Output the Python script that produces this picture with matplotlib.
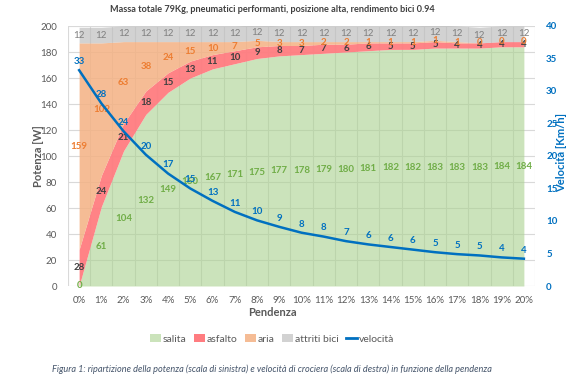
import numpy as np
import matplotlib
matplotlib.use("Agg")
import matplotlib.pyplot as plt
from matplotlib.patches import Patch
from matplotlib.lines import Line2D

plt.rcParams['font.family'] = ['Lato', 'DejaVu Sans']

pendenza = ["0%", "1%", "2%", "3%", "4%", "5%", "6%", "7%", "8%", "9%", "10%",
            "11%", "12%", "13%", "14%", "15%", "16%", "17%", "18%", "19%", "20%"]
salita = [0, 61, 104, 132, 149, 160, 167, 171, 175, 177, 178, 179, 180, 181, 182, 182, 183, 183, 183, 184, 184]
asfalto = [28, 24, 21, 18, 15, 13, 11, 10, 9, 8, 7, 7, 6, 6, 5, 5, 5, 4, 4, 4, 4]
aria = [159, 102, 63, 38, 24, 15, 10, 7, 5, 3, 3, 2, 2, 1, 1, 1, 1, 1, 0, 0, 0]
bici = [12] * 21
velocita = [33.2, 28.1, 23.8, 20.2, 17.3, 15.0, 13.1, 11.4, 10.1, 9.1, 8.2, 7.6, 6.9,
            6.4, 6.0, 5.6, 5.2, 4.9, 4.7, 4.4, 4.2]

c_sal, c_asf, c_aria, c_bici, c_vel = '#A9D18E', '#FF7C80', '#F4B183', '#BFBFBF', '#0070C0'

fig = plt.figure(figsize=(5.79, 3.83), dpi=100)
ax = fig.add_axes([68/579, 1-286/383, (535-68)/579, (286-26)/383])
x = np.arange(len(pendenza))

ax.grid(True, axis='y', color='#D9D9D9', lw=0.8)
ax.set_xticks(np.arange(-0.5, len(pendenza), 1), minor=True)
ax.grid(True, axis='x', which='minor', color='#D9D9D9', lw=0.8)
ax.set_axisbelow(True)

ax.fill_between(x, 0, salita, color=c_sal, alpha=0.6, lw=0)
s1 = np.array(salita)
s2 = s1 + np.array(asfalto)
s3 = s2 + np.array(aria)
s4 = s3 + np.array(bici)
ax.fill_between(x, s1, s2, color=c_asf, alpha=0.95, lw=0)
ax.fill_between(x, s2, s3, color=c_aria, alpha=0.85, lw=0)
ax.fill_between(x, s3, s4, color=c_bici, alpha=0.7, lw=0)

ax.set_xlim(-0.5, 20.5)
ax.set_ylim(0, 200)
ax.set_yticks(np.arange(0, 201, 20))
ax.set_xticks(x)
ax.set_xticklabels(pendenza)
ax.tick_params(axis='both', which='both', length=0, labelsize=7, colors='#595959')
ax.tick_params(axis='y', pad=8)
ax.tick_params(axis='x', pad=7)
for sp in ax.spines.values():
    sp.set_visible(False)

lab_kw = dict(ha='center', va='center', fontsize=7, fontweight='bold')
for i in x:
    ax.text(i, salita[i] / 2, str(salita[i]), color='#70AD47', **lab_kw)
    ax.text(i, s1[i] + asfalto[i] / 2, str(asfalto[i]), color='#404040', **lab_kw)
    ax.text(i, s2[i] + aria[i] / 2, str(aria[i]), color='#ED7D31', **lab_kw)
    ax.text(i, s3[i] + bici[i] / 2, str(bici[i]), color='#7F7F7F', ha='center', va='center', fontsize=7)

ax2 = ax.twinx()
ax2.plot(x, velocita, color=c_vel, lw=1.8)
ax2.set_ylim(0, 40)
ax2.set_yticks(np.arange(0, 41, 5))
ax2.tick_params(axis='y', length=0, labelsize=7, colors=c_vel, pad=8)
for t in ax2.get_yticklabels():
    t.set_fontweight('bold')
for sp in ax2.spines.values():
    sp.set_visible(False)
for i in x:
    ax2.annotate(str(int(round(velocita[i]))), (i, velocita[i]), xytext=(0, 3),
                 textcoords='offset points', ha='center', va='bottom',
                 fontsize=7, fontweight='bold', color=c_vel)

fig.text(38/579, 1-156/383, 'Potenza [W]', rotation=90, ha='center', va='center',
         fontsize=8, fontweight='bold', color='#595959')
fig.text(562/579, 1-152/383, 'Velocità [Km/h]', rotation=90, ha='center', va='center',
         fontsize=8, fontweight='bold', color=c_vel)
fig.text(272/579, 1-313/383, 'Pendenza', ha='center', va='center',
         fontsize=8, fontweight='bold', color='#595959')
fig.text(272/579, 1-9/383, 'Massa totale 79Kg, pneumatici performanti, posizione alta, rendimento bici 0.94',
         ha='center', va='center', fontsize=6.6, fontweight='bold', color='#404040')

handles = [Patch(facecolor=c_sal, alpha=0.6), Patch(facecolor=c_asf), Patch(facecolor=c_aria, alpha=0.85),
           Patch(facecolor=c_bici, alpha=0.7), Line2D([0], [0], color=c_vel, lw=2)]
labels = ['salita', 'asfalto', 'aria', 'attriti bici', 'velocità']
fig.legend(handles, labels, loc='center', bbox_to_anchor=(272/579, 1-339/383), ncol=5,
           frameon=False, fontsize=7.5, handlelength=1.1, handleheight=0.8, handletextpad=0.15,
           columnspacing=0.7, labelcolor='#595959')

fig.text(272/579, 1-369/383,
         'Figura 1: ripartizione della potenza (scala di sinistra) e velocità di crociera (scala di destra) in funzione della pendenza',
         ha='center', va='center', fontsize=6.6, style='italic', color='#44546A')

fig.savefig('out.png', dpi=100)
